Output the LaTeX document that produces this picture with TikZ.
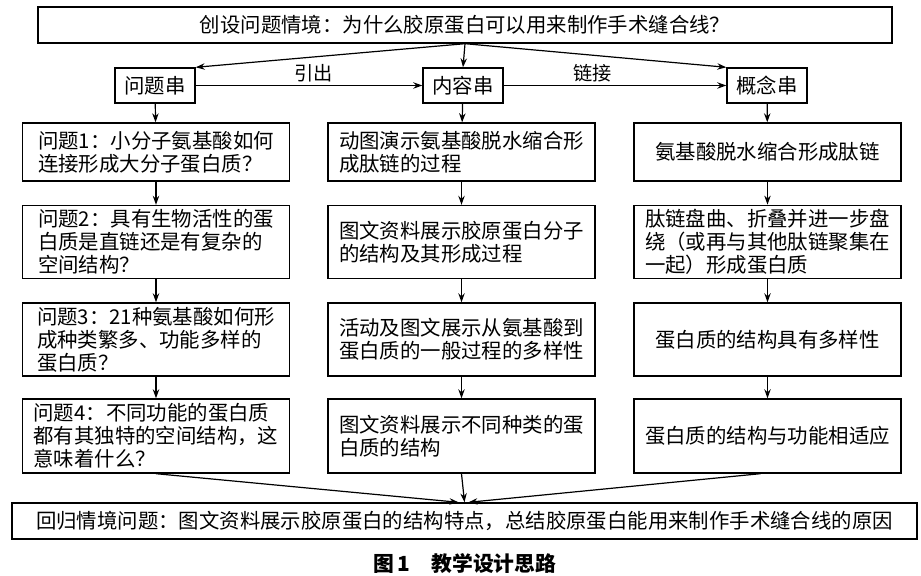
\documentclass[tikz,border=0pt]{standalone}
\usepackage{fontspec}
\usepackage{tikz}
\usetikzlibrary{positioning, arrows.meta}
\newfontfamily\cjk{Noto Sans CJK SC}
\tikzset{
  box/.style={draw, line width=0.7pt, inner sep=2pt, font=\cjk\fontsize{10.2}{11.5}\selectfont},
  colbox/.style={box, minimum width=133.5pt, align=left},
  midbox/.style={colbox, align=center},
  tagbox/.style={box, minimum width=40pt, minimum height=17.5pt},
  arr/.style={-{Stealth[length=4.5pt, width=3.2pt]}, line width=0.6pt},
  lbl/.style={font=\cjk\fontsize{9.6}{11}\selectfont, inner sep=1pt},
}
\begin{document}
\begin{tikzpicture}[x=0.5pt, y=-0.5pt]
  \useasboundingbox (0,0) rectangle (921,576);
  % situation
  \node[box, minimum width=427pt, minimum height=18pt] (top) at (465,25)
    {创设问题情境：为什么胶原蛋白可以用来制作手术缝合线？};
  \node[tagbox] (q) at (155,85.5) {问题串};
  \node[tagbox] (c) at (463,85.5) {内容串};
  \node[tagbox] (k) at (767,85.5) {概念串};
  % question column
  \node[colbox, minimum height=29pt] (q1) at (156,152) {问题1：小分子氨基酸如何\\连接形成大分子蛋白质？};
  \node[colbox, minimum height=36.5pt] (q2) at (156,242) {问题2：具有生物活性的蛋\\白质是直链还是有复杂的\\空间结构？};
  \node[colbox, minimum height=36.5pt] (q3) at (156,339.5) {问题3：21种氨基酸如何形\\成种类繁多、功能多样的\\蛋白质？};
  \node[colbox, minimum height=37pt] (q4) at (156,436) {问题4：不同功能的蛋白质\\都有其独特的空间结构，这\\意味着什么？};
  % content column
  \node[colbox, minimum height=29pt] (c1) at (461.5,152) {动图演示氨基酸脱水缩合形\\成肽链的过程};
  \node[colbox, minimum height=36.5pt] (c2) at (461.5,242) {图文资料展示胶原蛋白分子\\的结构及其形成过程};
  \node[colbox, minimum height=36.5pt] (c3) at (461.5,339.5) {活动及图文展示从氨基酸到\\蛋白质的一般过程的多样性};
  \node[colbox, minimum height=37pt] (c4) at (461.5,436) {图文资料展示不同种类的蛋\\白质的结构};
  % concept column
  \node[midbox, minimum height=29pt] (k1) at (767.5,152) {氨基酸脱水缩合形成肽链};
  \node[colbox, minimum height=36.5pt] (k2) at (767.5,242) {肽链盘曲、折叠并进一步盘\\绕（或再与其他肽链聚集在\\一起）形成蛋白质};
  \node[midbox, minimum height=36.5pt] (k3) at (767.5,339.5) {蛋白质的结构具有多样性};
  \node[midbox, minimum height=37pt] (k4) at (767.5,436) {蛋白质的结构与功能相适应};
  % back to situation
  \node[box, minimum width=452.5pt, minimum height=18pt] (end) at (464.5,521)
    {回归情境问题：图文资料展示胶原蛋白的结构特点，总结胶原蛋白能用来制作手术缝合线的原因};
  \node[font=\cjk\bfseries\fontsize{10.4}{12}\selectfont, inner sep=1pt] (cap) at (465,564) {图\,1\quad 教学设计思路};

  \draw[arr] (top.south) -- (q.north east);
  \draw[arr] (top.south) -- (c.north);
  \draw[arr] (top.south) -- (k.north west);
  \draw[arr] (q) -- node[lbl, above=0.5pt, pos=0.52] {引出} (c);
  \draw[arr] (c) -- node[lbl, above=0.5pt, pos=0.4] {链接} (k);
  \foreach \s in {q,c,k} {
    \draw[arr] (\s) -- (\s1);
    \foreach \i [count=\j from 2] in {1,2,3} \draw[arr] (\s\i) -- (\s\j);
  }
  \draw[arr] (q4.south) -- ([xshift=-3pt]end.north);
  \draw[arr] (c4.south) -- (end.north);
  \draw[arr] ([xshift=-3.5pt]k4.south) -- ([xshift=2pt]end.north);
\end{tikzpicture}
\end{document}
